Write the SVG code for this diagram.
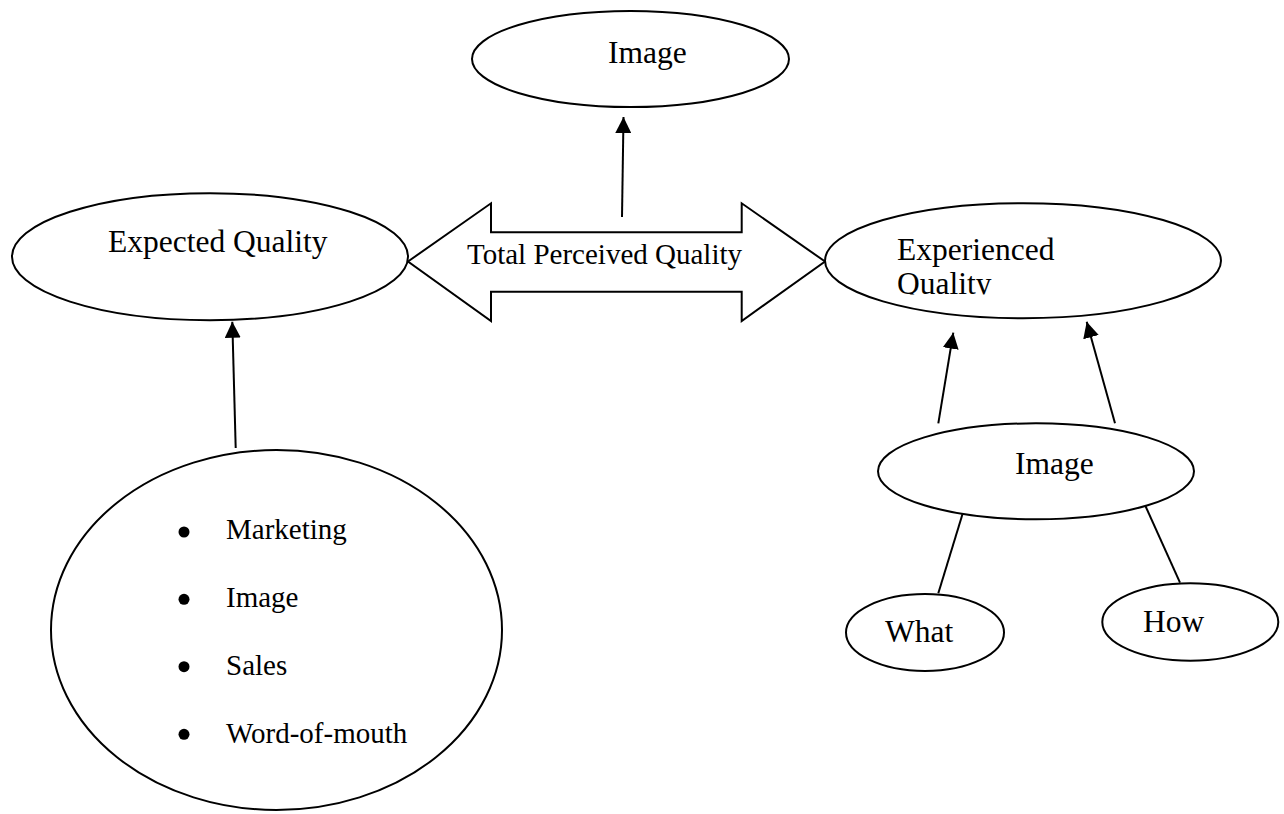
<svg xmlns="http://www.w3.org/2000/svg" width="1284" height="814" viewBox="0 0 1284 814">
<style>
.n{fill:#fff;stroke:#000;stroke-width:2}
.t{font-family:"Liberation Serif","Times New Roman",serif;font-size:31.5px;fill:#000}
.s{font-family:"Liberation Serif","Times New Roman",serif;font-size:29px;fill:#000}
.c{stroke:#000;stroke-width:2;fill:none}
</style>
<defs>
<marker id="ah" markerUnits="userSpaceOnUse" markerWidth="16" markerHeight="16" refX="16" refY="8" orient="auto">
<path d="M0,0 L16,8 L0,16 z" fill="#000"/>
</marker>
<clipPath id="eqclip"><rect x="880" y="220" width="300" height="74.5"/></clipPath>
</defs>
<rect width="1284" height="814" fill="#fff"/>
<g id="connectors">
<line class="c" x1="622" y1="217" x2="623.5" y2="117" marker-end="url(#ah)"/>
<line class="c" x1="235.7" y1="448" x2="232.3" y2="321.7" marker-end="url(#ah)"/>
<line class="c" x1="938.3" y1="423.3" x2="953.3" y2="332.7" marker-end="url(#ah)"/>
<line class="c" x1="1115" y1="423.3" x2="1086.7" y2="321.7" marker-end="url(#ah)"/>
<line class="c" x1="964.3" y1="508.3" x2="938.3" y2="593.3"/>
<line class="c" x1="1142.3" y1="499" x2="1180" y2="582.7"/>
</g>
<g id="total-perceived-quality">
<path class="n" d="M408,261.5 L491,203.3 L491,232.3 L741.7,232.3 L741.7,203.3 L825,261.5 L741.7,321 L741.7,291.7 L491,291.7 L491,321 Z"/>
<text class="s" x="467" y="264">Total Perceived Quality</text>
</g>
<g id="image-top">
<ellipse class="n" cx="630.5" cy="59" rx="158.5" ry="48"/>
<text class="t" x="608" y="63">Image</text>
</g>
<g id="expected-quality">
<ellipse class="n" cx="210" cy="256.7" rx="198" ry="63.5"/>
<text class="t" x="108" y="252">Expected Quality</text>
</g>
<g id="experienced-quality">
<ellipse class="n" cx="1023" cy="260.7" rx="198" ry="57.5"/>
<g clip-path="url(#eqclip)">
<text class="t" x="897" y="260">Experienced</text>
<text class="t" x="897" y="294">Quality</text>
</g>
</g>
<g id="expected-sources">
<ellipse class="n" cx="276.5" cy="630" rx="225.5" ry="180"/>
<circle cx="184" cy="532" r="5.5"/>
<circle cx="184" cy="599.3" r="5.5"/>
<circle cx="184" cy="666.7" r="5.5"/>
<circle cx="184" cy="734.3" r="5.5"/>
<text class="s" x="226" y="539">Marketing</text>
<text class="s" x="226" y="607">Image</text>
<text class="s" x="226" y="675">Sales</text>
<text class="s" x="226" y="743">Word-of-mouth</text>
</g>
<g id="image-right">
<ellipse class="n" cx="1036" cy="471.3" rx="158" ry="48"/>
<text class="t" x="1015" y="474">Image</text>
</g>
<g id="what">
<ellipse class="n" cx="925" cy="632.5" rx="79" ry="38.5"/>
<text class="t" x="885" y="641.7">What</text>
</g>
<g id="how">
<ellipse class="n" cx="1190.3" cy="622" rx="88" ry="38.7"/>
<text class="t" x="1143" y="631.7">How</text>
</g>
</svg>
